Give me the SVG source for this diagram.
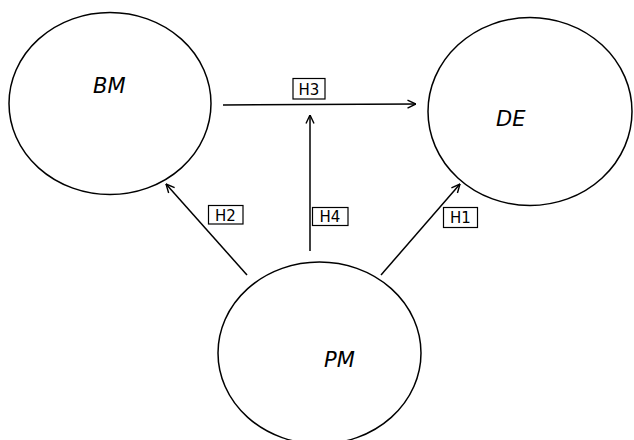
<svg xmlns="http://www.w3.org/2000/svg" width="634" height="440" viewBox="0 0 634 440">
<style>
.node{fill:#fff;stroke:#000;stroke-width:1.5}
.nl{font-family:"DejaVu Sans",sans-serif;font-style:italic;font-size:21px;fill:#000}
.lb{fill:#fff;stroke:#000;stroke-width:1.2}
.lt{font-family:"DejaVu Sans",sans-serif;font-size:15px;fill:#000;text-anchor:middle}
.c{stroke:#000;stroke-width:1.5;fill:none;marker-end:url(#ah)}
</style>
<defs>
<marker id="ah" viewBox="0 0 10 10" refX="9.5" refY="5" markerWidth="10" markerHeight="10" markerUnits="userSpaceOnUse" orient="auto">
<path d="M1,1 L9.5,5 L1,9" fill="none" stroke="#000" stroke-width="1.4"/>
</marker>
</defs>
<rect width="634" height="440" fill="#fff"/>
<g id="BM"><ellipse class="node" cx="110" cy="103.5" rx="101" ry="91"/><text class="nl" x="93" y="93">BM</text></g>
<g id="DE"><ellipse class="node" cx="530" cy="111.5" rx="102" ry="94"/><text class="nl" x="496" y="126">DE</text></g>
<g id="PM"><ellipse class="node" cx="319.5" cy="353" rx="101.5" ry="91"/><text class="nl" x="324" y="367">PM</text></g>
<g id="connectors">
<line class="c" x1="223" y1="105" x2="416" y2="104"/>
<line class="c" x1="310" y1="251" x2="310" y2="115"/>
<line class="c" x1="247" y1="275" x2="166" y2="184"/>
<line class="c" x1="381" y1="275" x2="460" y2="184"/>
</g>
<g id="labels">
<rect class="lb" x="293" y="78.5" width="32" height="20.5"/><text class="lt" x="309" y="94.5">H3</text>
<rect class="lb" x="208.5" y="205.5" width="34.5" height="18.5"/><text class="lt" x="225.5" y="220.5">H2</text>
<rect class="lb" x="312.5" y="207.5" width="35.5" height="18"/><text class="lt" x="330" y="222">H4</text>
<rect class="lb" x="443.5" y="207.5" width="34" height="20"/><text class="lt" x="460.5" y="223">H1</text>
</g>
</svg>
